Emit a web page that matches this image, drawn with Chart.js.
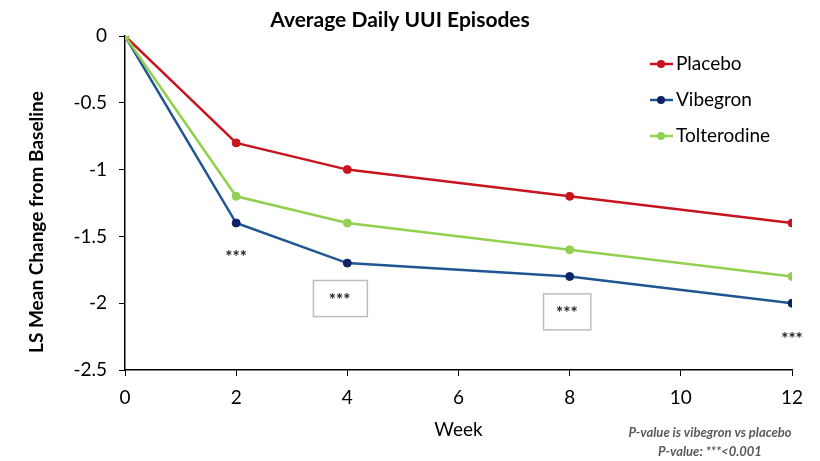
<!DOCTYPE html>
<html lang="en">
<head>
    <meta charset="UTF-8">
    <title>Average Daily UUI Episodes</title>
    <script src="https://cdn.jsdelivr.net/npm/chart.js"></script>
    <style>
        html, body { margin: 0; padding: 0; background: #fff; }
        #wrap { width: 820px; height: 461px; }
    </style>
</head>
<body>
    <div id="wrap"><canvas id="uuiChart" width="820" height="461"></canvas></div>

    <script>
        // Data
        const weeks = [0, 2, 4, 8, 12];
        const placebo = [0, -0.8, -1.0, -1.2, -1.4];
        const vibegron = [0, -1.4, -1.7, -1.8, -2.0];
        const tolterodine = [0, -1.2, -1.4, -1.6, -1.8];
        const seriesNames = ['Placebo', 'Vibegron', 'Tolterodine'];

        const FONT = 'Lato, "Open Sans", sans-serif';

        const toPoints = vals => weeks.map((w, i) => ({ x: w, y: vals[i] }));

        // significance marks (data coords), boxed ones get a grey frame
        const sigMarks = [
            { x: 2, y: -1.63 },
            { x: 3.86, y: -1.95, box: [3.39, -1.83, 4.36, -2.10] },
            { x: 7.95, y: -2.05, box: [7.53, -1.93, 8.38, -2.20] },
            { x: 12, y: -2.24 }
        ];

        const extras = {
            id: 'extras',
            afterDatasetsDraw(chart) {
                const { ctx, scales: { x, y } } = chart;
                ctx.save();

                // title
                ctx.fillStyle = '#000';
                ctx.font = 'bold 21px ' + FONT;
                ctx.textAlign = 'center';
                ctx.textBaseline = 'middle';
                ctx.fillText('Average Daily UUI Episodes', 400, 20);

                // y axis title
                ctx.save();
                ctx.translate(37, 222);
                ctx.rotate(-Math.PI / 2);
                ctx.font = 'bold 19px ' + FONT;
                ctx.fillText('LS Mean Change from Baseline', 0, 0);
                ctx.restore();

                // significance marks
                sigMarks.forEach(m => {
                    if (m.box) {
                        const x0 = x.getPixelForValue(m.box[0]), y0 = y.getPixelForValue(m.box[1]);
                        const x1 = x.getPixelForValue(m.box[2]), y1 = y.getPixelForValue(m.box[3]);
                        ctx.strokeStyle = '#bdbdbd';
                        ctx.lineWidth = 1.5;
                        ctx.strokeRect(x0, y0, x1 - x0, y1 - y0);
                    }
                    ctx.fillStyle = '#222';
                    ctx.font = 'bold 17px ' + FONT;
                    ctx.fillText('***', x.getPixelForValue(m.x), y.getPixelForValue(m.y) + 4);
                });

                // legend
                ctx.textAlign = 'left';
                ctx.font = '19px ' + FONT;
                chart.data.datasets.forEach((ds, i) => {
                    const ly = 64 + i * 36;
                    ctx.strokeStyle = ds.borderColor;
                    ctx.lineWidth = 2.5;
                    ctx.beginPath();
                    ctx.moveTo(650, ly);
                    ctx.lineTo(673, ly);
                    ctx.stroke();
                    ctx.fillStyle = ds.pointBackgroundColor;
                    ctx.beginPath();
                    ctx.arc(661, ly, 4, 0, Math.PI * 2);
                    ctx.fill();
                    ctx.fillStyle = '#000';
                    ctx.fillText(ds.label, 676, ly);
                });

                // footnote
                ctx.fillStyle = '#595959';
                ctx.textAlign = 'center';
                ctx.font = 'italic bold 13px ' + FONT;
                ctx.fillText('P-value is vibegron vs placebo', 710, 433);
                ctx.fillText('P-value: ***<0.001', 710, 452);

                ctx.restore();
            }
        };

        new Chart(document.getElementById('uuiChart'), {
            type: 'line',
            data: {
                datasets: [
                    {
                        label: seriesNames[0],
                        data: toPoints(placebo),
                        borderColor: '#c8141e',
                        pointBackgroundColor: '#c8141e',
                        pointBorderColor: '#c8141e',
                        order: 2
                    },
                    {
                        label: seriesNames[1],
                        data: toPoints(vibegron),
                        borderColor: '#1f5592',
                        pointBackgroundColor: '#0c2466',
                        pointBorderColor: '#0c2466',
                        order: 1
                    },
                    {
                        label: seriesNames[2],
                        data: toPoints(tolterodine),
                        borderColor: '#92d050',
                        pointBackgroundColor: '#92d050',
                        pointBorderColor: '#92d050',
                        order: 0
                    }
                ]
            },
            options: {
                responsive: false,
                animation: false,
                layout: { padding: { top: 36, right: 28, left: 0, bottom: 0 } },
                elements: {
                    line: { borderWidth: 2.5, tension: 0 },
                    point: { radius: 4, borderWidth: 1 }
                },
                plugins: {
                    legend: { display: false },
                    tooltip: { enabled: false }
                },
                scales: {
                    x: {
                        type: 'linear',
                        min: 0,
                        max: 12,
                        afterFit: s => { s.height = 91; },
                        ticks: { stepSize: 2, color: '#000', padding: 10, font: { family: FONT, size: 19 } },
                        grid: { drawOnChartArea: false, drawTicks: true, tickLength: 6, color: '#000' },
                        border: { color: '#000', width: 1.5 },
                        title: { display: true, text: 'Week', color: '#000', font: { family: FONT, size: 19 }, padding: { top: 0, bottom: 20 } }
                    },
                    y: {
                        min: -2.5,
                        max: 0,
                        afterFit: s => { s.width = 125; },
                        ticks: {
                            stepSize: 0.5, color: '#000', padding: 12, font: { family: FONT, size: 19 },
                            callback: v => String(Math.round(v * 10) / 10)
                        },
                        grid: { drawOnChartArea: false, drawTicks: true, tickLength: 6, color: '#000' },
                        border: { color: '#000', width: 1.5 }
                    }
                }
            },
            plugins: [extras]
        });
    </script>
</body>
</html>
